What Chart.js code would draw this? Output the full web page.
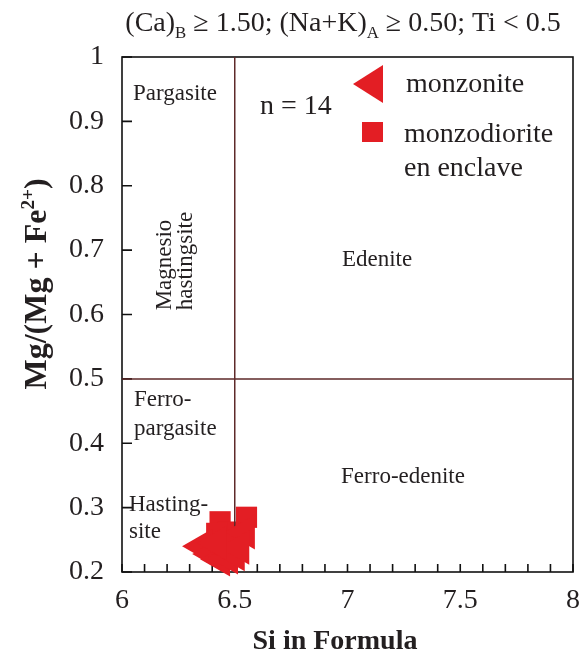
<!DOCTYPE html>
<html>
<head>
<meta charset="utf-8">
<script src="https://cdn.jsdelivr.net/npm/chart.js@4.4.1/dist/chart.umd.min.js"></script>
<style>
  body { margin: 0; background: #fff; }
  #wrap { width: 587px; height: 657px; }
</style>
</head>
<body>
<div id="wrap"><canvas id="myChart"></canvas></div>
<script>
// amphibole classification, Si vs Mg/(Mg+Fe2+)
var monzoniteSi = [6.355, 6.40, 6.435, 6.47, 6.50, 6.485, 6.545, 6.52, 6.42];
var monzoniteMg = [0.240, 0.228, 0.220, 0.223, 0.228, 0.250, 0.262, 0.238, 0.245];

var enclaveSi = [6.435, 6.47, 6.552, 6.50, 6.42];
var enclaveMg = [0.278, 0.262, 0.285, 0.255, 0.260];

var siBoundary = 6.5;
var mgBoundary = 0.5;

var regionLabels = ['Pargasite', 'n = 14', 'Edenite', 'Ferro-edenite'];

var red = 'rgb(227, 30, 36)';
var txt = '#231f20';
var lineCol = '#5e2a2a';
var serif = '"Liberation Serif", "Times New Roman", serif';

function pts(xs, ys) {
   return xs.map(function(x, i) { return {x: x, y: ys[i]}; });
}

// draws text with sub/superscript pieces
function richText(ctx, parts, x, y, size, bold, align) {
   var w = 0;
   parts.forEach(function(p) {
      var s = p.s || p.u ? size * 0.6 : size;
      ctx.font = (bold ? 'bold ' : '') + s + 'px ' + serif;
      p.w = ctx.measureText(p.t).width;
      p.size = s;
      w += p.w;
   });
   var cx = align === 'center' ? x - w / 2 : x;
   parts.forEach(function(p) {
      ctx.font = (bold ? 'bold ' : '') + p.size + 'px ' + serif;
      var dy = p.s ? size * 0.25 : (p.u ? -size * 0.38 : 0);
      ctx.fillText(p.t, cx, y + dy);
      cx += p.w;
   });
}

var decor = {
   id: 'decor',
   afterDatasetDraw: function(chart, args) {
      if (args.index !== 1) return;
      // field boundaries, drawn over squares but under triangles
      var ctx = chart.ctx, a = chart.chartArea;
      var xs = chart.scales.x, ys = chart.scales.y;
      ctx.save();
      ctx.strokeStyle = lineCol;
      ctx.lineWidth = 1.5;
      ctx.beginPath();
      var px = xs.getPixelForValue(siBoundary);
      ctx.moveTo(px, a.top); ctx.lineTo(px, a.bottom);
      var py = ys.getPixelForValue(mgBoundary);
      ctx.moveTo(a.left, py); ctx.lineTo(a.right, py);
      ctx.stroke();
      ctx.restore();
   },
   beforeDatasetsDraw: function(chart) {
      var ctx = chart.ctx, a = chart.chartArea;
      var xs = chart.scales.x, ys = chart.scales.y;
      ctx.save();
      // frame
      ctx.strokeStyle = '#111';
      ctx.lineWidth = 1.6;
      ctx.strokeRect(a.left, a.top, a.right - a.left, a.bottom - a.top);
      ctx.beginPath();
      for (var i = 0; i <= 20; i++) {
         var px = xs.getPixelForValue(6 + i * 0.1);
         ctx.moveTo(px, a.bottom); ctx.lineTo(px, a.bottom - 8);
      }
      for (var j = 0; j <= 8; j++) {
         var py = ys.getPixelForValue(0.2 + j * 0.1);
         ctx.moveTo(a.left, py); ctx.lineTo(a.left + 10, py);
      }
      ctx.stroke();

      ctx.fillStyle = txt;
      ctx.textBaseline = 'alphabetic';
      ctx.textAlign = 'left';
      ctx.font = '23px ' + serif;
      ctx.fillText(regionLabels[0], 133, 100);
      ctx.textAlign = 'center';
      ctx.fillText(regionLabels[2], 377, 266);
      ctx.fillText(regionLabels[3], 403, 483);
      ctx.textAlign = 'left';
      ctx.fillText('Ferro-', 134, 406);
      ctx.fillText('pargasite', 134, 435);
      ctx.fillText('Hasting-', 129, 511);
      ctx.fillText('site', 129, 538);
      ctx.font = '28px ' + serif;
      ctx.fillText(regionLabels[1], 260, 114);

      ctx.save();
      ctx.font = '23px ' + serif;
      ctx.translate(171, 265);
      ctx.rotate(-Math.PI / 2);
      ctx.textAlign = 'center';
      ctx.fillText('Magnesio', 0, 0);
      ctx.fillText('hastingsite', 4, 21);
      ctx.restore();

      // top title
      ctx.textAlign = 'left';
      richText(ctx, [
         {t: '(Ca)'}, {t: 'B', s: true}, {t: ' \u2265 1.50; (Na+K)'}, {t: 'A', s: true},
         {t: ' \u2265 0.50; Ti < 0.5'}
      ], 343, 31, 28, false, 'center');

      // axis titles
      ctx.textAlign = 'center';
      ctx.font = 'bold 28px ' + serif;
      ctx.fillText('Si in Formula', 335, 649);
      ctx.save();
      ctx.translate(46, 284);
      ctx.rotate(-Math.PI / 2);
      ctx.textAlign = 'left';
      richText(ctx, [{t: 'Mg/(Mg + Fe'}, {t: '2+', u: true}, {t: ')'}], 0, 0, 32, true, 'center');
      ctx.restore();

      // legend
      ctx.fillStyle = red;
      ctx.beginPath();
      ctx.moveTo(353, 84); ctx.lineTo(383, 65); ctx.lineTo(383, 103);
      ctx.closePath();
      ctx.fill();
      ctx.fillRect(362, 122, 21, 20);
      ctx.fillStyle = txt;
      ctx.textAlign = 'left';
      ctx.font = '28px ' + serif;
      ctx.fillText('monzonite', 406, 92);
      ctx.fillText('monzodiorite', 404, 142);
      ctx.fillText('en enclave', 404, 176);
      ctx.restore();
   }
};

const ctx = document.getElementById('myChart');
var chart = new Chart(ctx, {
   type: 'scatter',
   data: {
      datasets: [{
         label: 'monzonite',
         data: pts(monzoniteSi, monzoniteMg),
         pointStyle: 'triangle',
         rotation: -90,
         pointRadius: 20,
         backgroundColor: red,
         borderWidth: 0,
         clip: false
      }, {
         label: 'monzodiorite en enclave',
         data: pts(enclaveSi, enclaveMg),
         pointStyle: 'rect',
         pointRadius: 15,
         backgroundColor: red,
         borderWidth: 0,
         clip: false
      }]
   },
   options: {
      responsive: true,
      maintainAspectRatio: false,
      animation: false,
      layout: { autoPadding: false, padding: { top: 57, right: 14, left: 0, bottom: 0 } },
      plugins: { legend: { display: false }, tooltip: { enabled: false } },
      scales: {
         x: {
            type: 'linear', min: 6, max: 8,
            grid: { display: false, drawTicks: false },
            border: { display: false },
            ticks: {
               stepSize: 0.5, padding: 12, color: txt,
               font: { family: serif, size: 28 },
               callback: function(v) { return v % 1 === 0 ? String(v) : v.toFixed(1); }
            },
            afterFit: function(s) { s.height = 85; s.paddingLeft = 0; s.paddingRight = 0; }
         },
         y: {
            type: 'linear', min: 0.2, max: 1,
            grid: { display: false, drawTicks: false },
            border: { display: false },
            ticks: {
               stepSize: 0.1, padding: 18, color: txt,
               font: { family: serif, size: 28 },
               callback: function(v) { return Math.abs(v - 1) < 1e-9 ? '1' : v.toFixed(1); }
            },
            afterFit: function(s) { s.width = 122; s.paddingTop = 0; s.paddingBottom = 0; }
         }
      }
   },
   plugins: [decor]
});
</script>
</body>
</html>
